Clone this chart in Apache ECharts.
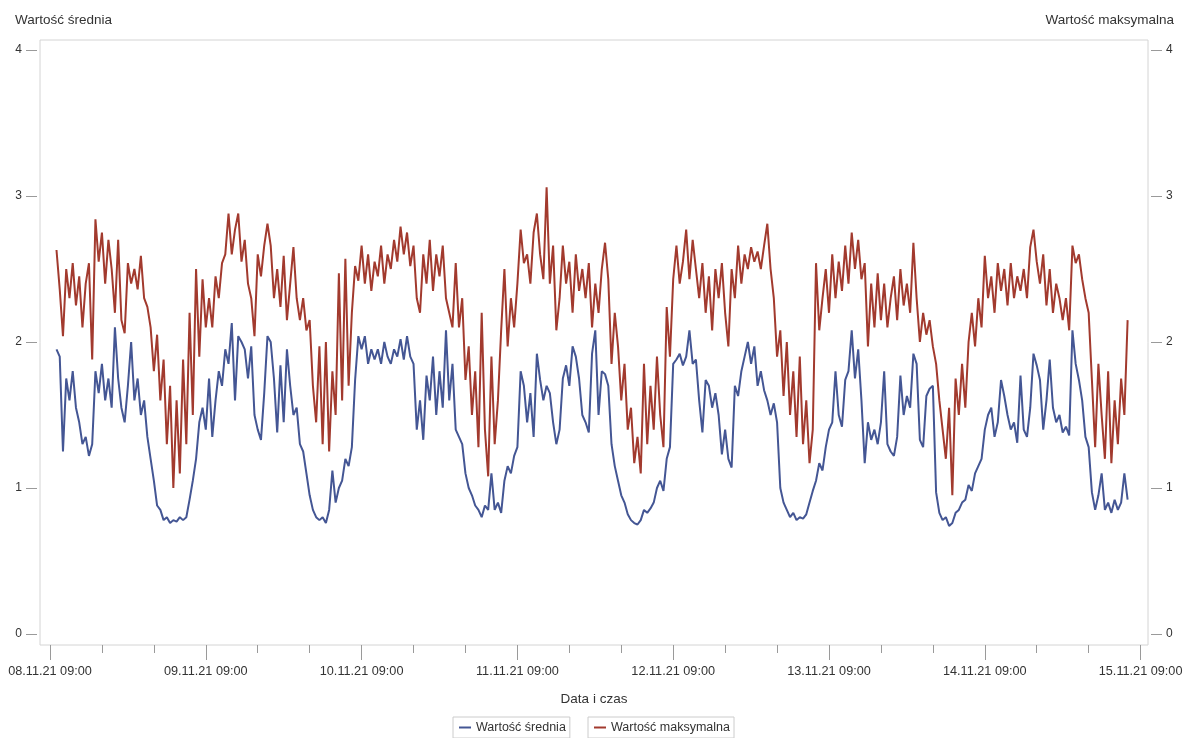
<!DOCTYPE html>
<html>
<head>
<meta charset="utf-8">
<script src="https://cdn.jsdelivr.net/npm/echarts@6/dist/echarts.min.js"></script>
<style>
  html, body { margin: 0; padding: 0; background: #fff; }
  #chart { width: 1190px; height: 738px; }
</style>
</head>
<body>
<div id="chart"></div>
<script>
// hours after 08.11.21 09:00, one reading every 30 min
const startHour = 1
const stepHours = 0.5

const tickLabels = ['08.11.21 09:00', '09.11.21 09:00', '10.11.21 09:00', '11.11.21 09:00',
  '12.11.21 09:00', '13.11.21 09:00', '14.11.21 09:00', '15.11.21 09:00']
const majorTicks = [0, 24, 48, 72, 96, 120, 144, 168]
const minorTicks = [0, 8, 16, 24, 32, 40, 48, 56, 64, 72, 80, 88, 96, 104, 112, 120, 128, 136, 144, 152, 160, 168]
const yTicks = [0, 1, 2, 3, 4]

const meanValues = [
  1.95, 1.9, 1.25, 1.75, 1.6, 1.8, 1.55, 1.45, 1.3, 1.35, 1.22, 1.3, 1.8, 1.65, 1.85,
  1.6, 1.75, 1.55, 2.1, 1.75, 1.55, 1.45, 1.7, 2.0, 1.6, 1.75, 1.5, 1.6, 1.35,
  1.2, 1.05, 0.88, 0.85, 0.78, 0.8, 0.76, 0.78, 0.77, 0.8, 0.78, 0.8, 0.92, 1.05, 1.2, 1.45, 1.55, 1.4,
  1.75, 1.35, 1.6, 1.8, 1.7, 1.95, 1.85, 2.13, 1.6, 2.04, 2.0, 1.95, 1.75, 1.97, 1.5, 1.4, 1.33, 1.65,
  2.04, 2.0, 1.75, 1.38, 1.84, 1.45, 1.95, 1.7, 1.5, 1.55, 1.3, 1.25, 1.1, 0.95, 0.85, 0.8,
  0.78, 0.8, 0.76, 0.85, 1.12, 0.9, 1.0, 1.05, 1.2, 1.15, 1.28, 1.74, 2.04, 1.95,
  2.04, 1.85, 1.95, 1.88, 1.95, 1.85, 2.0, 1.9, 1.85, 1.95, 1.9, 2.02, 1.88, 2.04, 1.9, 1.85,
  1.4, 1.6, 1.33, 1.77, 1.6, 1.9, 1.5, 1.8, 1.55, 2.08, 1.6, 1.85,
  1.4, 1.35, 1.3, 1.1, 1.0, 0.95, 0.88, 0.85, 0.8, 0.88, 0.85, 1.1, 0.85, 0.9, 0.83, 1.05, 1.15, 1.1, 1.22, 1.28,
  1.8, 1.7, 1.45, 1.65, 1.35, 1.92, 1.74, 1.6, 1.7, 1.65, 1.45, 1.3, 1.4, 1.75, 1.84, 1.7, 1.97, 1.9, 1.75, 1.5,
  1.45, 1.38, 1.92, 2.08, 1.5, 1.8, 1.78, 1.7, 1.3, 1.15, 1.05, 0.95, 0.9, 0.82, 0.78, 0.76,
  0.75, 0.78, 0.85, 0.83, 0.86, 0.9, 1.0, 1.05, 0.98, 1.2, 1.28, 1.85,
  1.88, 1.92, 1.84, 1.9, 2.08, 1.85, 1.88, 1.6, 1.38, 1.74, 1.7, 1.55, 1.65, 1.5, 1.23, 1.4,
  1.2, 1.14, 1.7, 1.63, 1.8, 1.9, 2.0, 1.85, 1.97, 1.7, 1.8, 1.67, 1.6, 1.5, 1.58, 1.45,
  1.0, 0.9, 0.85, 0.8, 0.83, 0.78, 0.8, 0.79, 0.82, 0.9, 0.98, 1.05, 1.17, 1.12, 1.28, 1.4,
  1.45, 1.8, 1.5, 1.42, 1.74, 1.8, 2.08, 1.75, 1.95, 1.6, 1.17, 1.45, 1.33, 1.4, 1.3, 1.45,
  1.8, 1.3, 1.25, 1.22, 1.35, 1.77, 1.5, 1.63, 1.55, 1.92, 1.85, 1.33, 1.28, 1.63, 1.68, 1.7,
  0.97, 0.83, 0.78, 0.8, 0.74, 0.76, 0.83, 0.85, 0.9, 0.92, 1.02, 0.98, 1.1, 1.15, 1.2, 1.4,
  1.5, 1.55, 1.35, 1.45, 1.74, 1.63, 1.5, 1.4, 1.45, 1.31, 1.77, 1.4, 1.35, 1.55, 1.92, 1.84,
  1.74, 1.4, 1.6, 1.88, 1.55, 1.45, 1.5, 1.38, 1.42, 1.36, 2.08, 1.85, 1.74, 1.6, 1.35, 1.28,
  0.97, 0.85, 0.95, 1.1, 0.85, 0.9, 0.83, 0.92, 0.85, 0.9, 1.1, 0.92
]

const maxValues = [
  2.63, 2.36, 2.04, 2.5, 2.3, 2.54, 2.25, 2.45, 2.1, 2.4, 2.54, 1.88, 2.84, 2.55, 2.75,
  2.4, 2.7, 2.5, 2.2, 2.7, 2.15, 2.06, 2.54, 2.4, 2.5, 2.36, 2.59, 2.3, 2.24,
  2.1, 1.8, 2.05, 1.6, 1.88, 1.3, 1.7, 1.0, 1.6, 1.1, 1.88, 1.3, 2.2, 1.5, 2.5, 1.9, 2.43, 2.1,
  2.3, 2.1, 2.45, 2.3, 2.54, 2.6, 2.88, 2.6, 2.77, 2.88, 2.55, 2.7, 2.4, 2.3, 2.04, 2.6, 2.45, 2.66,
  2.81, 2.66, 2.3, 2.5, 2.24, 2.59, 2.15, 2.4, 2.65, 2.3, 2.15, 2.3, 2.08, 2.15, 1.7, 1.45,
  1.97, 1.3, 2.0, 1.25, 1.8, 1.5, 2.47, 1.6, 2.57, 1.7, 2.2, 2.52, 2.42, 2.66,
  2.4, 2.6, 2.35, 2.55, 2.45, 2.66, 2.4, 2.6, 2.5, 2.7, 2.55, 2.79, 2.6, 2.75, 2.52, 2.66,
  2.3, 2.2, 2.6, 2.4, 2.7, 2.35, 2.6, 2.45, 2.66, 2.3, 2.2, 2.1,
  2.54, 2.1, 2.3, 1.74, 1.97, 1.5, 1.8, 1.28, 2.2, 1.4, 1.08, 1.9, 1.3, 1.6, 2.08, 2.5, 1.97, 2.3, 2.1, 2.4,
  2.77, 2.54, 2.6, 2.4, 2.75, 2.88, 2.6, 2.43, 3.06, 2.4, 2.66, 2.08, 2.3, 2.66, 2.4, 2.55, 2.2, 2.6, 2.35, 2.5,
  2.3, 2.54, 2.1, 2.4, 2.2, 2.5, 2.68, 2.43, 1.85, 2.2, 1.97, 1.6, 1.85, 1.4, 1.55, 1.17,
  1.35, 1.1, 1.85, 1.3, 1.7, 1.4, 1.9, 1.5, 1.28, 2.24, 1.9, 2.43,
  2.66, 2.4, 2.55, 2.77, 2.43, 2.7, 2.5, 2.3, 2.54, 2.2, 2.45, 2.08, 2.5, 2.3, 2.54, 2.2,
  1.97, 2.5, 2.3, 2.66, 2.4, 2.6, 2.5, 2.65, 2.55, 2.62, 2.5, 2.66, 2.81, 2.5, 2.3, 1.9,
  2.08, 1.63, 2.0, 1.5, 1.8, 1.35, 1.9, 1.3, 1.6, 1.17, 1.4, 2.54, 2.08, 2.3, 2.5, 2.2,
  2.6, 2.3, 2.55, 2.35, 2.66, 2.4, 2.75, 2.5, 2.7, 2.43, 2.54, 1.97, 2.4, 2.1, 2.47, 2.15,
  2.4, 2.1, 2.3, 2.45, 2.15, 2.5, 2.25, 2.4, 2.2, 2.68, 2.3, 2.0, 2.2, 2.05, 2.15, 1.97,
  1.85, 1.6, 1.4, 1.2, 1.55, 0.95, 1.75, 1.5, 1.85, 1.55, 2.0, 2.2, 1.97, 2.3, 2.1, 2.59,
  2.3, 2.45, 2.2, 2.54, 2.35, 2.5, 2.25, 2.54, 2.3, 2.45, 2.35, 2.5, 2.3, 2.65, 2.77, 2.55,
  2.4, 2.6, 2.25, 2.5, 2.2, 2.4, 2.3, 2.15, 2.3, 2.08, 2.66, 2.54, 2.6, 2.43, 2.3, 2.2,
  1.74, 1.28, 1.85, 1.5, 1.2, 1.8, 1.17, 1.6, 1.3, 1.75, 1.5, 2.15
]

const seriesNames = ['Wartość średnia', 'Wartość maksymalna']
const seriesColors = ['#445694', '#a23a2e']

const toPairs = values => values.map((v, i) => [startHour + i * stepHours, v])

const chart = echarts.init(document.getElementById('chart'), null, { renderer: 'canvas' })

const yAxisBase = {
  type: 'value',
  min: -0.0753,
  max: 4.0685,
  offset: 3,
  axisLine: { show: false, onZero: false },
  axisTick: { show: true, customValues: yTicks, length: 11, lineStyle: { color: '#9a9a9a' } },
  axisLabel: { customValues: yTicks, margin: 15, color: '#333', fontSize: 12 },
  splitLine: { show: false }
}

const xAxisBase = {
  type: 'value',
  min: -1.54,
  max: 169.14,
  position: 'bottom',
  axisLine: { show: false, onZero: false },
  splitLine: { show: false }
}

const titleStyle = { fontSize: 13.5, fontWeight: 'normal', color: '#333' }

const option = {
  animation: false,
  textStyle: { fontFamily: 'Liberation Sans, Arial, sans-serif' },
  title: [
    { text: seriesNames[0], left: 10, top: 8, textStyle: titleStyle },
    { text: seriesNames[1], right: 11, top: 8, textStyle: titleStyle }
  ],
  grid: {
    left: 40,
    right: 42,
    top: 40,
    bottom: 93,
    show: true,
    borderColor: '#d4d4d4',
    borderWidth: 1
  },
  legend: [
    {
      data: [seriesNames[0]],
      left: 453,
      top: 717,
      icon: 'rect',
      itemWidth: 12,
      itemHeight: 2,
      padding: [4, 4, 4, 6],
      borderColor: '#cccccc',
      borderWidth: 1,
      textStyle: { fontSize: 12.5, color: '#333' }
    },
    {
      data: [seriesNames[1]],
      left: 588,
      top: 717,
      icon: 'rect',
      itemWidth: 12,
      itemHeight: 2,
      padding: [4, 4, 4, 6],
      borderColor: '#cccccc',
      borderWidth: 1,
      textStyle: { fontSize: 12.5, color: '#333' }
    }
  ],
  xAxis: [
    Object.assign({}, xAxisBase, {
      name: 'Data i czas',
      nameLocation: 'middle',
      nameGap: 47,
      nameTextStyle: { fontSize: 13.5, color: '#333' },
      axisTick: { customValues: majorTicks, length: 15, lineStyle: { color: '#9a9a9a' } },
      axisLabel: {
        customValues: majorTicks,
        margin: 20,
        color: '#333',
        fontSize: 12.7,
        formatter: v => tickLabels[Math.round(v / 24)]
      }
    }),
    // minor ticks every 8 hours
    Object.assign({}, xAxisBase, {
      axisTick: { customValues: minorTicks, length: 8, lineStyle: { color: '#9a9a9a' } },
      axisLabel: { show: false }
    })
  ],
  yAxis: [
    Object.assign({}, yAxisBase, { position: 'left' }),
    Object.assign({}, yAxisBase, { position: 'right' })
  ],
  series: [
    {
      name: seriesNames[0],
      type: 'line',
      xAxisIndex: 0,
      yAxisIndex: 0,
      showSymbol: false,
      color: seriesColors[0],
      lineStyle: { width: 2, color: seriesColors[0] },
      data: toPairs(meanValues)
    },
    {
      name: seriesNames[1],
      type: 'line',
      xAxisIndex: 0,
      yAxisIndex: 1,
      showSymbol: false,
      color: seriesColors[1],
      lineStyle: { width: 2, color: seriesColors[1] },
      data: toPairs(maxValues)
    }
  ]
}

chart.setOption(option)
</script>
</body>
</html>
